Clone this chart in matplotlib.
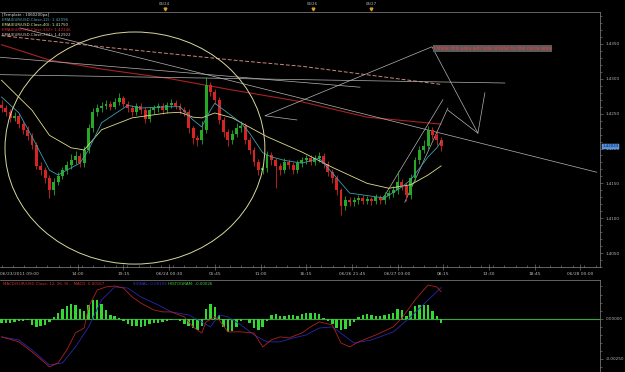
import matplotlib
matplotlib.use('Agg')
import numpy as np
from matplotlib import pyplot as plt
from matplotlib.patches import Ellipse
from matplotlib.ticker import MultipleLocator, FixedLocator

# EUR/USD 15-minute chart, one candle drawn for every 2 bars
opens = [1.4262, 1.4258, 1.4252, 1.4244, 1.4247, 1.4235, 1.4227, 1.4218, 1.4205, 1.4175,
         1.4169, 1.4158, 1.4140, 1.4152, 1.4161, 1.4169, 1.4176, 1.4183, 1.4189, 1.4179,
         1.4198, 1.4229, 1.4252, 1.4258, 1.4261, 1.4264, 1.4260, 1.4267, 1.4272, 1.4264,
         1.4258, 1.4252, 1.4261, 1.4255, 1.4242, 1.4255, 1.4258, 1.4261, 1.4255, 1.4262,
         1.4265, 1.4261, 1.4255, 1.4252, 1.4229, 1.4215, 1.4212, 1.4227, 1.4291, 1.4281,
         1.4270, 1.4241, 1.4224, 1.4212, 1.4221, 1.4229, 1.4232, 1.4212, 1.4198, 1.4181,
         1.4169, 1.4172, 1.4191, 1.4183, 1.4175, 1.4169, 1.4181, 1.4176, 1.4169, 1.4179,
         1.4183, 1.4186, 1.4181, 1.4186, 1.4189, 1.4178, 1.4166, 1.4158, 1.4140, 1.4117,
         1.4126, 1.4123, 1.4126, 1.4129, 1.4125, 1.4127, 1.4125, 1.4130, 1.4126, 1.4132,
         1.4136, 1.4140, 1.4152, 1.4146, 1.4133, 1.4158, 1.4183, 1.4198, 1.4204, 1.4227,
         1.4219, 1.4212]
highs = [1.4270, 1.4263, 1.4256, 1.4253, 1.4251, 1.4240, 1.4233, 1.4222, 1.4209, 1.4181,
         1.4174, 1.4162, 1.4157, 1.4166, 1.4174, 1.4182, 1.4192, 1.4197, 1.4194, 1.4203,
         1.4235, 1.4258, 1.4264, 1.4267, 1.4270, 1.4268, 1.4273, 1.4279, 1.4276, 1.4268,
         1.4262, 1.4266, 1.4265, 1.4259, 1.4260, 1.4263, 1.4266, 1.4265, 1.4267, 1.4271,
         1.4269, 1.4265, 1.4259, 1.4256, 1.4233, 1.4220, 1.4240, 1.4303, 1.4296, 1.4285,
         1.4274, 1.4245, 1.4228, 1.4227, 1.4236, 1.4240, 1.4236, 1.4216, 1.4202, 1.4185,
         1.4178, 1.4197, 1.4195, 1.4187, 1.4179, 1.4186, 1.4185, 1.4180, 1.4184, 1.4188,
         1.4191, 1.4190, 1.4191, 1.4195, 1.4193, 1.4182, 1.4170, 1.4162, 1.4144, 1.4132,
         1.4130, 1.4131, 1.4134, 1.4133, 1.4132, 1.4131, 1.4135, 1.4134, 1.4137, 1.4141,
         1.4146, 1.4168, 1.4156, 1.4150, 1.4163, 1.4188, 1.4204, 1.4212, 1.4233, 1.4231,
         1.4223, 1.4217]
lows = [1.4253, 1.4247, 1.4238, 1.4240, 1.4230, 1.4221, 1.4212, 1.4199, 1.4170, 1.4162,
        1.4150, 1.4129, 1.4134, 1.4147, 1.4156, 1.4164, 1.4171, 1.4178, 1.4173, 1.4174,
        1.4193, 1.4224, 1.4247, 1.4252, 1.4256, 1.4255, 1.4256, 1.4262, 1.4259, 1.4252,
        1.4246, 1.4248, 1.4250, 1.4236, 1.4238, 1.4250, 1.4253, 1.4250, 1.4251, 1.4258,
        1.4256, 1.4250, 1.4246, 1.4222, 1.4207, 1.4203, 1.4206, 1.4222, 1.4275, 1.4264,
        1.4235, 1.4216, 1.4204, 1.4207, 1.4216, 1.4224, 1.4206, 1.4192, 1.4175, 1.4162,
        1.4163, 1.4167, 1.4177, 1.4143, 1.4162, 1.4165, 1.4170, 1.4163, 1.4165, 1.4174,
        1.4178, 1.4176, 1.4176, 1.4181, 1.4172, 1.4160, 1.4151, 1.4133, 1.4105, 1.4112,
        1.4117, 1.4118, 1.4121, 1.4120, 1.4120, 1.4119, 1.4120, 1.4121, 1.4121, 1.4127,
        1.4131, 1.4135, 1.4140, 1.4125, 1.4128, 1.4153, 1.4178, 1.4193, 1.4199, 1.4213,
        1.4205, 1.4196]
closes = [1.4258, 1.4252, 1.4244, 1.4247, 1.4235, 1.4227, 1.4218, 1.4205, 1.4175, 1.4169,
          1.4158, 1.4140, 1.4152, 1.4161, 1.4169, 1.4176, 1.4183, 1.4189, 1.4179, 1.4198,
          1.4229, 1.4252, 1.4258, 1.4261, 1.4264, 1.4260, 1.4267, 1.4272, 1.4264, 1.4258,
          1.4252, 1.4261, 1.4255, 1.4242, 1.4255, 1.4258, 1.4261, 1.4255, 1.4262, 1.4265,
          1.4261, 1.4255, 1.4252, 1.4229, 1.4215, 1.4212, 1.4227, 1.4291, 1.4281, 1.4270,
          1.4241, 1.4224, 1.4212, 1.4221, 1.4229, 1.4232, 1.4212, 1.4198, 1.4181, 1.4169,
          1.4172, 1.4191, 1.4183, 1.4175, 1.4169, 1.4181, 1.4176, 1.4169, 1.4179, 1.4183,
          1.4186, 1.4181, 1.4186, 1.4189, 1.4178, 1.4166, 1.4158, 1.4140, 1.4117, 1.4126,
          1.4123, 1.4126, 1.4129, 1.4125, 1.4127, 1.4125, 1.4130, 1.4126, 1.4132, 1.4136,
          1.4140, 1.4152, 1.4146, 1.4133, 1.4158, 1.4183, 1.4198, 1.4204, 1.4227, 1.4219,
          1.4212, 1.4203]
histogram = [-0.00025, -0.00025, -0.00025, -0.00019, -0.00012, -0.00012, -0.00006, -0.00037, -0.00050, -0.00043,
             -0.00037, -0.00019, 0.00012, 0.00037, 0.00062, 0.00081, 0.00093, 0.00087, 0.00062, 0.00050,
             0.00087, 0.00118, 0.00118, 0.00093, 0.00056, 0.00025, 0.00019, 0.00006, -0.00012, -0.00031,
             -0.00043, -0.00043, -0.00050, -0.00043, -0.00031, -0.00025, -0.00025, -0.00019, -0.00012, -0.00006,
             0.0, -0.00012, -0.00031, -0.00043, -0.00056, -0.00068, -0.00043, 0.00062, 0.00093, 0.00074,
             0.00025, -0.00050, -0.00081, -0.00074, -0.00050, -0.00012, 0.0, -0.00025, -0.00056, -0.00068,
             -0.00050, -0.00012, 0.00025, 0.00031, 0.00019, 0.00019, 0.00025, 0.00025, 0.00019, 0.00031,
             0.00037, 0.00037, 0.00037, 0.00031, 0.00006, -0.00012, -0.00031, -0.00056, -0.00068, -0.00062,
             -0.00043, -0.00019, 0.00012, 0.00025, 0.00031, 0.00025, 0.00019, 0.00019, 0.00025, 0.00031,
             0.00037, 0.00062, 0.00056, 0.00019, 0.00050, 0.00081, 0.00087, 0.00087, 0.00087, 0.00050,
             0.00019, -0.00026]

# indicator lines, read at sample bars (bar = 15 min)
ema12_bar = [0, 8, 14, 22, 26, 30, 36, 40, 46, 58, 64, 76, 82, 88, 92, 96, 98, 104, 110, 114,
             120, 124, 130, 138, 146, 152, 160, 176, 184, 188, 196, 200, 202]
ema12_val = [1.4274, 1.4251, 1.4217, 1.4169, 1.4162, 1.4169, 1.4179, 1.4198, 1.4237, 1.4262,
             1.4258, 1.4260, 1.4260, 1.4241, 1.4231, 1.4255, 1.4265, 1.4251, 1.4237, 1.4222,
             1.4194, 1.4188, 1.4183, 1.4179, 1.4186, 1.4165, 1.4136, 1.4129, 1.4145, 1.4155,
             1.4188, 1.4201, 1.4210]
ema40_bar = [0, 14, 22, 32, 38, 46, 60, 76, 82, 88, 92, 98, 106, 122, 138, 152, 168, 178, 188, 196, 202]
ema40_val = [1.4298, 1.4255, 1.4219, 1.4201, 1.4198, 1.4227, 1.4244, 1.4251, 1.4252, 1.4245, 1.4244,
             1.4251, 1.4244, 1.4217, 1.4195, 1.4173, 1.4150, 1.4143, 1.4148, 1.4162, 1.4175]
ema342_bar = [0, 22, 46, 76, 106, 138, 168, 202]
ema342_val = [1.4349, 1.4327, 1.4314, 1.4301, 1.4284, 1.4267, 1.4245, 1.4235]
ema734_bar = [0, 46, 106, 138, 170, 202]
ema734_val = [1.4362, 1.4346, 1.4327, 1.4318, 1.4305, 1.4292]

macd_bar = [0, 8, 14, 20, 22, 26, 30, 34, 38, 40, 44, 48, 52, 56, 60, 64, 70, 74, 78, 84,
            88, 92, 94, 98, 100, 104, 110, 116, 120, 124, 128, 132, 138, 142, 146, 152, 156, 160, 164, 172,
            180, 184, 190, 196, 200, 202]
macd_val = [-0.00113, -0.00144, -0.00206, -0.00275, -0.00299, -0.00275, -0.00194, -0.00088, -0.00057, 0.00073,
            0.00178, 0.00197, 0.00203, 0.00190, 0.00135, 0.00097, 0.00054, 0.00042, 0.00042, 0.00011,
            -0.00051, -0.00089, -0.00020, 0.00011, -0.00008, -0.00082, -0.00082, -0.00089, -0.00175, -0.00132,
            -0.00113, -0.00120, -0.00089, -0.00051, -0.00020, -0.00039, -0.00151, -0.00175, -0.00144, -0.00101,
            -0.00051, 0.00004, 0.00116, 0.00209, 0.00197, 0.00167]
signal_bar = [0, 8, 14, 22, 28, 34, 40, 46, 52, 58, 64, 72, 78, 86, 92, 96, 100, 104, 110, 116,
              122, 128, 134, 140, 146, 152, 162, 170, 180, 188, 196, 202]
signal_val = [-0.00113, -0.00132, -0.00194, -0.00287, -0.00275, -0.00175, -0.00051, 0.00116, 0.00197, 0.00190,
              0.00135, 0.00085, 0.00042, 0.00023, -0.00020, -0.00051, 0.00023, 0.00011, -0.00039, -0.00101,
              -0.00144, -0.00144, -0.00120, -0.00101, -0.00058, -0.00051, -0.00151, -0.00132, -0.00082, 0.00011,
              0.00116, 0.00193]

# hand drawn lines on the chart: (bar, price) points
drawings = [
    [(8.5, 1.4373), (273.5, 1.4166)],
    [(-0.7, 1.4331), (164.7, 1.4288)],
    [(-0.7, 1.4306), (231.3, 1.4294)],
    [(135.7, 1.4241), (121.0, 1.4247), (197.8, 1.4346), (218.9, 1.4222), (222.1, 1.4280)],
    [(174.8, 1.4126), (202.8, 1.4270)],
    [(185.3, 1.4123), (205.1, 1.4258)],
    [(205.1, 1.4255), (218.9, 1.4222)],
]
circle_center = (61.3, 1.42007)
circle_size = (119.4, 0.0333)
note = 'I think this area will look similar to the circle area'
note_at = (198.6, 1.4344)

tick_bars = [35, 56, 77, 98, 119, 140, 161, 182, 203, 224, 245, 266]
tick_labels = ['14:00', '19:15', '06/24 00:30', '05:45', '11:00', '16:15',
               '06/26 21:45', '06/27 03:00', '08:15', '13:30', '18:45', '06/28 00:00']
day_bars = [75, 143, 170]
day_labels = ['06/24', '06/26', '06/27']

legend_rows = ['[Template : 1060200pa]',
               'EMA(EUR/USD.Close,12): 1.42096',
               'EMA(EUR/USD.Close,40): 1.41750',
               'EMA(EUR/USD.Close,342): 1.42346',
               'EMA(EUR/USD.Close,734): 1.42922']
legend_colors = ['#e0e0e0', '#4fa8b4', '#ecec9a', '#d83030', '#e8c8c0']

GRAY = '#8a8a8a'
TXT = '#b8b8b8'

fig = plt.figure(figsize=(6.25, 3.72), dpi=100, facecolor='black')
ax = fig.add_axes([0, 1 - 267 / 372, 600 / 625, 255 / 372])
ax.set_facecolor('black')
ax.set_xlim(-0.7, 275)
ax.set_ylim(1.4030, 1.43959)

o = np.array(opens)
h = np.array(highs)
l = np.array(lows)
c = np.array(closes)
xs = np.arange(len(c)) * 2
cols = np.where(c >= o, '#27a827', '#d42424')
ax.vlines(xs, l, h, colors=cols, lw=0.6, zorder=3)
ax.bar(xs, np.maximum(np.abs(c - o), 0.00006), bottom=np.minimum(o, c), width=1.35,
       color=cols, linewidth=0, zorder=3)

ax.plot(ema734_bar, ema734_val, color='#c98a7a', lw=0.7, dashes=(4, 2), zorder=2)
ax.plot(ema342_bar, ema342_val, color='#a82222', lw=0.8, zorder=2)
ax.plot(ema40_bar, ema40_val, color='#dede8a', lw=0.6, zorder=4)
ax.plot(ema12_bar, ema12_val, color='#3d9fb0', lw=0.6, zorder=4)

for pts in drawings:
    px, py = zip(*pts)
    ax.plot(px, py, color='#b4b4b4', lw=0.5, zorder=2)
ax.add_patch(Ellipse(circle_center, circle_size[0], circle_size[1], fill=False,
                     edgecolor='#d9d79b', lw=0.7, zorder=5))
ax.text(note_at[0], note_at[1], note, fontsize=3.4, color='#ff3a3a', ha='left', va='center',
        bbox=dict(facecolor='#5a5a5a', edgecolor='none', pad=0.7), zorder=6)

for i, (row, col) in enumerate(zip(legend_rows, legend_colors)):
    ax.text(2 / 600, 1 - (3 + 5 * i) / 255, row, transform=ax.transAxes, fontsize=2.8,
            color=col, ha='left', va='center', zorder=7)

ax.spines['left'].set_visible(False)
for s in ['right', 'top', 'bottom']:
    ax.spines[s].set_color(GRAY)
    ax.spines[s].set_linewidth(0.5)

ax.yaxis.tick_right()
ax.yaxis.set_major_locator(FixedLocator([1.4050, 1.4100, 1.4150, 1.4200, 1.4250, 1.4300, 1.4350]))
ax.yaxis.set_major_formatter(matplotlib.ticker.FormatStrFormatter('%.4f'))
ax.yaxis.set_minor_locator(MultipleLocator(0.001))
ax.tick_params(axis='y', which='major', colors=GRAY, labelcolor=TXT, labelsize=3, length=2.5, width=0.4, pad=1.5)
ax.tick_params(axis='y', which='minor', colors=GRAY, length=1.3, width=0.4)

ax.set_xticks(tick_bars)
ax.set_xticklabels(tick_labels)
ax.xaxis.set_minor_locator(MultipleLocator(5.25))
ax.tick_params(axis='x', which='major', direction='inout', colors=GRAY, labelcolor=TXT,
               labelsize=3.2, length=4, width=0.4, pad=1.5)
ax.tick_params(axis='x', which='minor', direction='in', colors=GRAY, length=1.5, width=0.4)
ax.text(0.5 / 600, -(7 / 255), '06/23/2011 09:00', transform=ax.transAxes, fontsize=3.2,
        color=TXT, ha='left', va='center')

xtr = ax.get_xaxis_transform()
for b, lab in zip(day_bars, day_labels):
    ax.text(b, 1 + 8 / 255, lab, transform=xtr, fontsize=2.8, color=TXT, ha='center', va='center', clip_on=False)
    ax.plot([b], [1 + 3 / 255], marker='v', ms=2, color='#d8a020', transform=xtr, clip_on=False)

ytr = ax.get_yaxis_transform()
ax.text(1.004, closes[-1], '%.5f' % 1.42033, transform=ytr, fontsize=2.8, color='#0a1a50',
        ha='left', va='center', bbox=dict(facecolor='#4d8fe0', edgecolor='#8ab8f0', pad=0.6, lw=0.3))

# MACD panel
ax2 = fig.add_axes([0, 0, 600 / 625, 92 / 372])
ax2.set_facecolor('black')
ax2.set_xlim(-0.7, 275)
ax2.set_ylim(-0.00331, 0.0024)
ax2.bar(xs, histogram, width=1.1, color='#33d833', linewidth=0, zorder=2)
ax2.axhline(0, color='#3aa63a', lw=0.8, zorder=1)
ax2.plot(signal_bar, signal_val, color='#2828b0', lw=0.6, zorder=3)
ax2.plot(macd_bar, macd_val, color='#b02222', lw=0.6, zorder=3)
for s in ['left', 'bottom']:
    ax2.spines[s].set_visible(False)
for s in ['right', 'top']:
    ax2.spines[s].set_color(GRAY)
    ax2.spines[s].set_linewidth(0.5)
ax2.set_xticks([])
ax2.yaxis.tick_right()
ax2.set_yticks([0.0, -0.0025])
ax2.set_yticklabels(['0.00000', '-0.00250'])
ax2.yaxis.set_minor_locator(MultipleLocator(0.0005))
ax2.tick_params(axis='y', which='major', colors=GRAY, labelcolor=TXT, labelsize=3, length=2.5, width=0.4, pad=1.5)
ax2.tick_params(axis='y', which='minor', colors=GRAY, length=1.3, width=0.4)

hy = 1 - 284 / 372
fig.text(3 / 625, hy, 'MACD(EUR/USD.Close, 12, 26, 9) -  MACD: 0.00167', fontsize=2.9, color='#d03030', va='center')
fig.text(133 / 625, hy, 'SIGNAL: 0.00193', fontsize=2.9, color='#3a3ad0', va='center')
fig.text(168 / 625, hy, 'HISTOGRAM: -0.00026', fontsize=2.9, color='#40d040', va='center')

fig.savefig('out.png', dpi=100, facecolor='black')
